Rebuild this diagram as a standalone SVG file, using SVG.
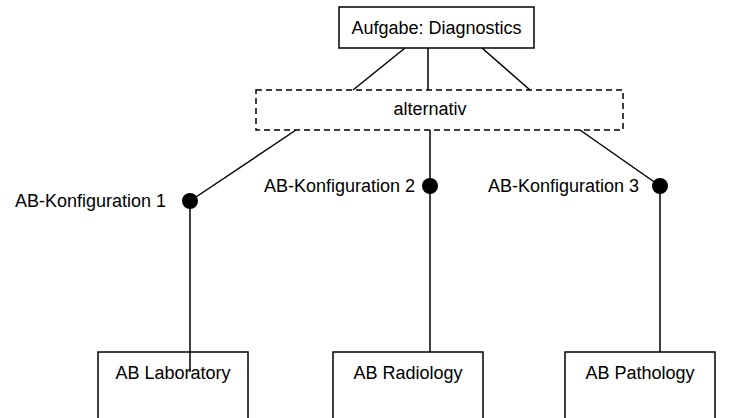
<svg xmlns="http://www.w3.org/2000/svg" width="740" height="418" viewBox="0 0 740 418">
<style>
.box{fill:#fff;stroke:#000;stroke-width:1.5}
.dash{fill:none;stroke:#000;stroke-width:1.5;stroke-dasharray:6 4}
.ln{stroke:#000;stroke-width:1.5;fill:none}
.dot{fill:#000}
text{font-family:"Liberation Sans",Arial,sans-serif;font-size:18px;fill:#000}
.c{text-anchor:middle}
.r{text-anchor:end}
</style>
<rect width="740" height="418" fill="#fff"/>
<g id="connectors">
<line class="ln" x1="405" y1="48" x2="353" y2="90"/>
<line class="ln" x1="428" y1="48" x2="428" y2="90"/>
<line class="ln" x1="482" y1="48" x2="530" y2="90"/>
<line class="ln" x1="296" y1="130" x2="190" y2="201"/>
<line class="ln" x1="430" y1="130" x2="430" y2="186"/>
<line class="ln" x1="580" y1="130" x2="660" y2="186"/>
<line class="ln" x1="190" y1="201" x2="190" y2="372"/>
<line class="ln" x1="430" y1="186" x2="430" y2="352"/>
<line class="ln" x1="660" y1="186" x2="660" y2="352"/>
</g>
<g id="task">
<rect class="box" x="339" y="7" width="195" height="41"/>
<text class="c" x="436.5" y="34">Aufgabe: Diagnostics</text>
</g>
<g id="alternativ">
<rect class="dash" x="256" y="90" width="367" height="40"/>
<text class="c" x="430" y="115">alternativ</text>
</g>
<g id="lab">
<rect class="box" x="98" y="352" width="150" height="80" style="fill:none"/>
<text class="c" x="173" y="379">AB Laboratory</text>
</g>
<g id="rad">
<rect class="box" x="333" y="352" width="150" height="80"/>
<text class="c" x="408" y="379">AB Radiology</text>
</g>
<g id="path">
<rect class="box" x="565" y="352" width="150" height="80"/>
<text class="c" x="640" y="379">AB Pathology</text>
</g>
<g id="cfg1">
<circle class="dot" cx="190" cy="201" r="8"/>
<text class="r" x="166" y="207">AB-Konfiguration 1</text>
</g>
<g id="cfg2">
<circle class="dot" cx="430" cy="186" r="8"/>
<text class="r" x="415" y="192">AB-Konfiguration 2</text>
</g>
<g id="cfg3">
<circle class="dot" cx="660" cy="186" r="8"/>
<text class="r" x="639" y="192">AB-Konfiguration 3</text>
</g>
</svg>
